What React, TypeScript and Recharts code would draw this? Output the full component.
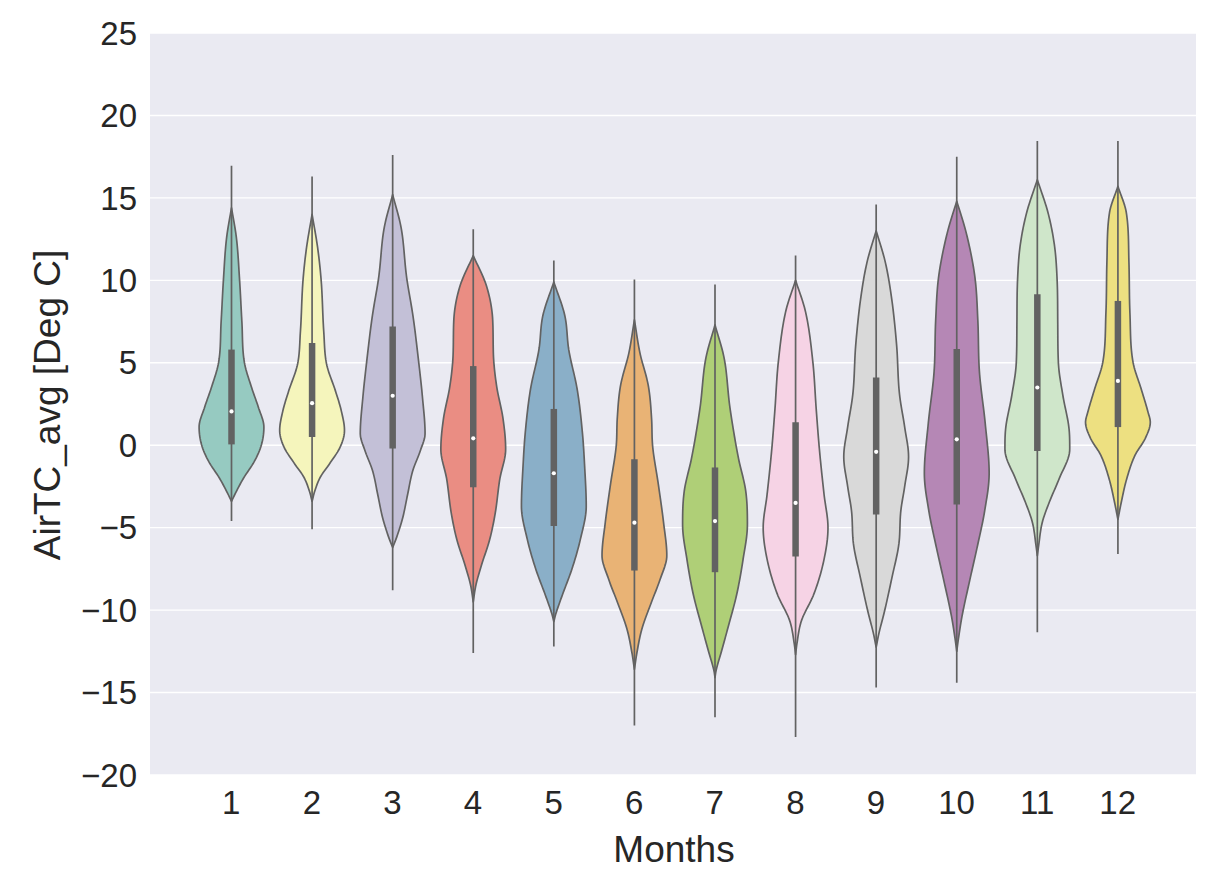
import React from "react";
import {
  ComposedChart,
  Bar,
  XAxis,
  YAxis,
  CartesianGrid,
  Customized,
} from "recharts";

// months on the x axis
const months = ["1", "2", "3", "4", "5", "6", "7", "8", "9", "10", "11", "12"];
const yTicks = [-20, -15, -10, -5, 0, 5, 10, 15, 20, 25];

// inner box: whisker ends, quartiles and medians (Deg C)
const whiskerLow = [-4.6, -5.1, -8.8, -12.6, -12.2, -17.0, -16.5, -17.7, -14.7, -14.4, -11.35, -6.6];
const whiskerHigh = [16.95, 16.3, 17.6, 13.1, 11.2, 10.05, 9.75, 11.5, 14.6, 17.5, 18.45, 18.45];
const q1 = [0.05, 0.5, -0.2, -2.55, -4.9, -7.6, -7.7, -6.75, -4.2, -3.6, -0.35, 1.1];
const q3 = [5.8, 6.2, 7.2, 4.8, 2.2, -0.85, -1.35, 1.4, 4.1, 5.83, 9.15, 8.75];
const medians = [2.05, 2.55, 3.0, 0.42, -1.7, -4.7, -4.6, -3.5, -0.4, 0.36, 3.5, 3.9];

// kernel density outline per month: [temperature, relative width]
const density: [number, number][][] = [
  // 1
  [[14.4, 0], [12.6, 0.15], [10, 0.25], [7.5, 0.32], [5, 0.4], [3.5, 0.62], [2.3, 0.83], [1.1, 1.0], [0, 0.92], [-1, 0.7], [-2, 0.37], [-2.8, 0.15], [-3.4, 0]],
  // 2
  [[14.0, 0], [12, 0.17], [10, 0.28], [6.9, 0.36], [4.9, 0.45], [3.3, 0.72], [2.1, 0.9], [0.9, 1.0], [-0.1, 0.87], [-1.15, 0.53], [-1.95, 0.25], [-2.8, 0.08], [-3.4, 0]],
  // 3
  [[15.2, 0], [13.2, 0.26], [10.2, 0.43], [7.8, 0.63], [5.1, 0.8], [2.9, 0.92], [0.7, 1.0], [-0.35, 0.85], [-1.55, 0.62], [-3, 0.46], [-4.4, 0.31], [-5.6, 0.12], [-6.2, 0]],
  // 4
  [[11.5, 0], [9.65, 0.41], [7.6, 0.6], [5.6, 0.62], [3.6, 0.72], [1.6, 0.92], [-0.25, 1.0], [-2.05, 0.82], [-4.1, 0.68], [-5.7, 0.51], [-7.3, 0.25], [-8.5, 0.08], [-9.5, 0]],
  // 5
  [[9.9, 0], [7.85, 0.34], [5.8, 0.46], [3.4, 0.72], [0.8, 0.88], [-1.25, 0.95], [-3.7, 1.0], [-5.7, 0.82], [-7.5, 0.56], [-9.1, 0.26], [-10.3, 0.05], [-10.7, 0]],
  // 6
  [[7.6, 0], [5.6, 0.17], [3.6, 0.43], [1.6, 0.53], [0, 0.56], [-2.4, 0.74], [-4.7, 0.9], [-6.7, 1.0], [-8.1, 0.8], [-9.5, 0.53], [-11.15, 0.23], [-12.55, 0.08], [-13.6, 0]],
  // 7
  [[7.3, 0], [5.3, 0.28], [2.3, 0.46], [-0.75, 0.72], [-2.8, 0.95], [-4.8, 1.0], [-7.0, 0.86], [-9.05, 0.67], [-10.85, 0.43], [-12.5, 0.2], [-13.7, 0.03], [-14.1, 0]],
  // 8
  [[10.0, 0], [8.15, 0.3], [5.1, 0.53], [2.1, 0.64], [-0.35, 0.74], [-3.0, 0.88], [-5.0, 1.0], [-7.0, 0.87], [-9.05, 0.56], [-10.65, 0.18], [-12.05, 0.04], [-12.7, 0]],
  // 9
  [[13.0, 0], [11.2, 0.27], [9.15, 0.46], [6.1, 0.63], [3.1, 0.72], [1.1, 0.88], [-0.7, 1.0], [-2.5, 0.88], [-4.0, 0.76], [-6.0, 0.7], [-8.0, 0.49], [-10.05, 0.26], [-11.45, 0.08], [-12.25, 0]],
  // 10
  [[14.8, 0], [12.9, 0.29], [10.2, 0.56], [7.6, 0.65], [4.45, 0.7], [1.3, 0.88], [-1.7, 1.0], [-4.0, 0.86], [-6.1, 0.64], [-8.2, 0.4], [-10.4, 0.16], [-11.9, 0.04], [-12.5, 0]],
  // 11
  [[16.1, 0], [14.1, 0.33], [12.1, 0.53], [10.05, 0.61], [7.45, 0.63], [5.0, 0.65], [3.0, 0.79], [0.97, 0.98], [-0.25, 1.0], [-2.05, 0.67], [-3.5, 0.36], [-4.7, 0.15], [-6.1, 0.04], [-6.7, 0]],
  // 12
  [[15.7, 0], [14.1, 0.26], [11.1, 0.34], [8.05, 0.37], [5.0, 0.47], [3.4, 0.72], [2.0, 0.93], [1.4, 1.0], [0.4, 0.84], [-0.6, 0.53], [-2.05, 0.27], [-3.5, 0.1], [-4.5, 0]],
];

const COLORS = [
  "#96CAC1", "#F5F5BC", "#C3C0D7", "#EA8D83", "#8AAFC8", "#E9B375",
  "#AFCF77", "#F6D3E5", "#D9D9D9", "#B587B5", "#CFE6CA", "#EDE081",
];
const LINE = "#626262";
const TEXT = "#262626";
const FONT = "'Liberation Sans', Arial, sans-serif";

const data = months.map((m, i) => ({
  month: m,
  range: [whiskerLow[i], whiskerHigh[i]],
  low: whiskerLow[i],
  high: whiskerHigh[i],
  q1: q1[i],
  q3: q3[i],
  median: medians[i],
  density: density[i],
}));

// monotone cubic interpolation of width as a function of temperature
function monotone(xs: number[], ys: number[]) {
  const n = xs.length;
  const d: number[] = [];
  for (let i = 0; i < n - 1; i++) d.push((ys[i + 1] - ys[i]) / (xs[i + 1] - xs[i]));
  const m: number[] = new Array(n).fill(0);
  m[0] = d[0];
  m[n - 1] = d[n - 2];
  for (let i = 1; i < n - 1; i++) {
    m[i] = d[i - 1] * d[i] <= 0 ? 0 : (d[i - 1] + d[i]) / 2;
  }
  for (let i = 0; i < n - 1; i++) {
    if (d[i] === 0) {
      m[i] = 0;
      m[i + 1] = 0;
      continue;
    }
    const a = m[i] / d[i];
    const b = m[i + 1] / d[i];
    const s = a * a + b * b;
    if (s > 9) {
      const t = 3 / Math.sqrt(s);
      m[i] = t * a * d[i];
      m[i + 1] = t * b * d[i];
    }
  }
  return (x: number) => {
    let i = 0;
    while (i < n - 2 && x > xs[i + 1]) i++;
    const h = xs[i + 1] - xs[i];
    const t = Math.min(1, Math.max(0, (x - xs[i]) / h));
    const t2 = t * t;
    const t3 = t2 * t;
    return (
      (2 * t3 - 3 * t2 + 1) * ys[i] +
      (t3 - 2 * t2 + t) * h * m[i] +
      (-2 * t3 + 3 * t2) * ys[i + 1] +
      (t3 - t2) * h * m[i + 1]
    );
  };
}

const ViolinShape = (props: any) => {
  const { x, y, width, height, payload, index } = props;
  if (!payload) return null;
  const top = Math.min(y, y + height);
  const bottom = Math.max(y, y + height);
  const { low, high } = payload;
  const py = (v: number) => top + ((high - v) / (high - low)) * (bottom - top);
  const cx = x + width / 2;
  const maxHalf = width * 0.4;

  const prof = [...payload.density].sort((a: number[], b: number[]) => a[0] - b[0]);
  const vs = prof.map((p: number[]) => p[0]);
  const ws = prof.map((p: number[]) => p[1]);
  const f = monotone(vs, ws);
  const vMin = vs[0];
  const vMax = vs[vs.length - 1];
  const steps = 140;
  const right: string[] = [];
  const left: string[] = [];
  for (let k = 0; k <= steps; k++) {
    const v = vMax - ((vMax - vMin) * k) / steps;
    const w = Math.max(0, f(v)) * maxHalf;
    right.push(`${(cx + w).toFixed(2)},${py(v).toFixed(2)}`);
    left.unshift(`${(cx - w).toFixed(2)},${py(v).toFixed(2)}`);
  }
  const d = `M${right.join(" L")} L${left.join(" L")} Z`;

  return (
    <g>
      <path d={d} fill={COLORS[index % COLORS.length]} stroke={LINE} strokeWidth={1.7} strokeLinejoin="round" />
      <line x1={cx} x2={cx} y1={py(high)} y2={py(low)} stroke={LINE} strokeWidth={1.7} />
      <line x1={cx} x2={cx} y1={py(payload.q3)} y2={py(payload.q1)} stroke={LINE} strokeWidth={6.5} />
      <circle cx={cx} cy={py(payload.median)} r={2.1} fill="#ffffff" />
    </g>
  );
};

const AxisTitles = () => (
  <g fontFamily={FONT} fill={TEXT}>
    <text x={674} y={862} textAnchor="middle" fontSize={37}>
      Months
    </text>
    <text
      x={47}
      y={405}
      textAnchor="middle"
      dominantBaseline="central"
      fontSize={37}
      transform="rotate(-90 47 405)"
    >
      AirTC_avg [Deg C]
    </text>
  </g>
);

const fmt = (v: number) => (v < 0 ? `\u2212${Math.abs(v)}` : `${v}`);

export default function App() {
  return (
    <div style={{ position: "absolute", left: 0, top: 0, background: "#fff" }}>
      <ComposedChart
        width={1217}
        height={881}
        data={data}
        margin={{ top: 33, right: 21, left: 0, bottom: 0 }}
        barCategoryGap={0}
      >
        <CartesianGrid vertical={false} stroke="#ffffff" strokeWidth={1.4} fill="#EAEAF2" />
        <XAxis
          dataKey="month"
          type="category"
          height={106}
          interval={0}
          tickLine={false}
          axisLine={false}
          tickSize={0}
          tickMargin={16}
          padding={{ left: 41, right: 38 }}
          tick={{ fill: TEXT, fontSize: 33, fontFamily: FONT }}
        />
        <YAxis
          type="number"
          width={150}
          domain={[-20, 25]}
          ticks={yTicks}
          interval={0}
          tickLine={false}
          axisLine={false}
          tickSize={0}
          tickMargin={13}
          tickFormatter={fmt}
          tick={{ fill: TEXT, fontSize: 33, fontFamily: FONT }}
        />
        <Bar dataKey="range" shape={ViolinShape} isAnimationActive={false} />
        <Customized component={AxisTitles} />
      </ComposedChart>
    </div>
  );
}
